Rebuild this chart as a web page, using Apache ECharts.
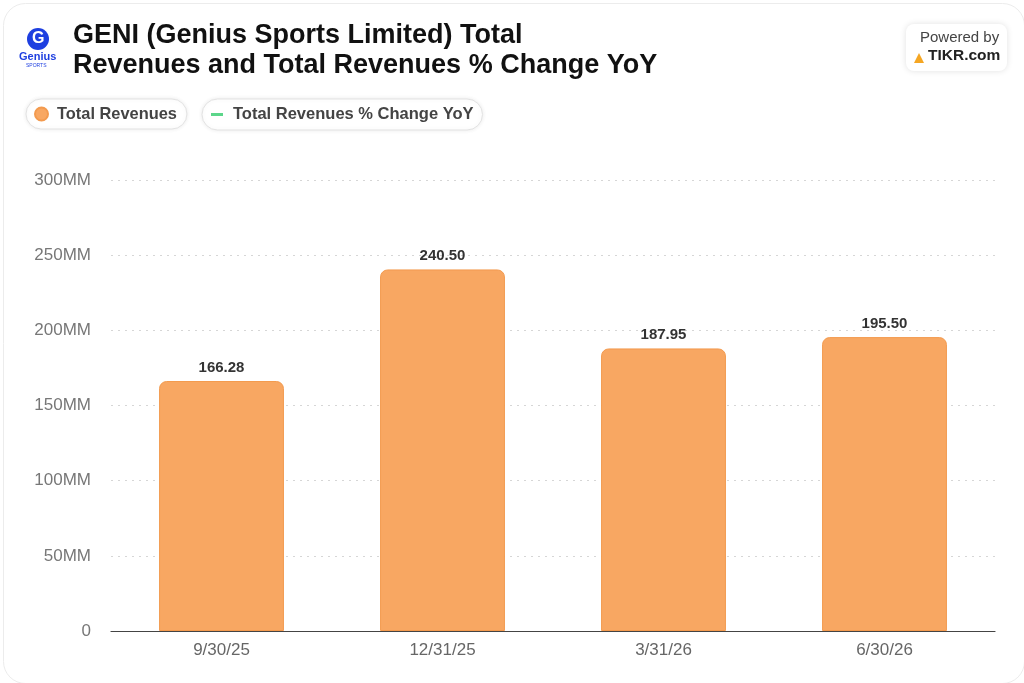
<!DOCTYPE html>
<html>
<head>
<meta charset="utf-8">
<script src="https://cdn.jsdelivr.net/npm/echarts@6/dist/echarts.min.js"></script>
<style>
html,body{margin:0;padding:0;background:#fff;}
#chart{width:1024px;height:683px;}
</style>
</head>
<body>
<div id="chart"></div>
<script>
const categories = ['9/30/25', '12/31/25', '3/31/26', '6/30/26'];
const totalRevenues = [166.28, 240.50, 187.95, 195.50];
const yoyChange = [];
const yTicks = [0, 50, 100, 150, 200, 250, 300];

const chart = echarts.init(document.getElementById('chart'));
const FONT = '"Liberation Sans", Arial, Helvetica, sans-serif';

chart.setOption({
  backgroundColor: '#ffffff',
  animation: false,
  textStyle: { fontFamily: FONT },
  title: {
    text: 'GENI (Genius Sports Limited) Total\nRevenues and Total Revenues % Change YoY',
    left: 68, top: 16,
    textStyle: { fontSize: 27, fontWeight: 'bold', color: '#111', lineHeight: 30, fontFamily: FONT }
  },
  legend: [
    {
      data: [{ name: 'Total Revenues', icon: 'circle' }],
      left: 26, top: 99,
      itemWidth: 13, itemHeight: 13,
      padding: [7, 10, 7, 8],
      borderColor: '#e3e3e3', borderWidth: 1, borderRadius: 16,
      backgroundColor: '#fff',
      shadowColor: 'rgba(0,0,0,0.08)', shadowBlur: 4,
      textStyle: { fontSize: 16.4, color: '#444', fontWeight: 'bold', fontFamily: FONT, padding: [0, 0, 0, 4] }
    },
    {
      data: [{ name: 'Total Revenues % Change YoY', icon: 'rect' }],
      left: 202, top: 99,
      itemWidth: 12, itemHeight: 3,
      padding: [7, 9, 7, 9],
      borderColor: '#e3e3e3', borderWidth: 1, borderRadius: 16,
      backgroundColor: '#fff',
      shadowColor: 'rgba(0,0,0,0.08)', shadowBlur: 4,
      textStyle: { fontSize: 16.5, color: '#444', fontWeight: 'bold', fontFamily: FONT, padding: [0, 0, 0, 5] }
    }
  ],
  grid: { left: 111, right: 29, top: 180, bottom: 52, containLabel: false },
  xAxis: {
    type: 'category',
    data: categories,
    axisLine: { lineStyle: { color: '#444', width: 1.2 } },
    axisTick: { alignWithLabel: true, length: 5, lineStyle: { color: '#444' },
      interval: 0 },
    axisLabel: { fontSize: 17, color: '#666', margin: 11, fontFamily: FONT }
  },
  yAxis: [
    {
      type: 'value',
      min: 0, max: 300, interval: 50,
      axisLine: { show: false },
      axisTick: { show: false },
      axisLabel: {
        fontSize: 17, color: '#777', margin: 20, fontFamily: FONT,
        formatter: function (v) { return yTicks.indexOf(v) >= 0 ? (v === 0 ? '0' : v + 'MM') : ''; }
      },
      splitLine: { lineStyle: { color: '#d6d6d6', type: [2, 5], width: 1 } }
    },
    { type: 'value', show: false }
  ],
  series: [
    {
      name: 'Total Revenues',
      type: 'bar',
      data: totalRevenues,
      barWidth: '56.5%',
      itemStyle: {
        color: '#F8A762',
        borderColor: '#F39A4E',
        borderWidth: 1,
        borderRadius: [7, 7, 0, 0]
      },
      label: {
        show: true, position: 'top', distance: 6,
        fontSize: 15, fontWeight: 'bold', color: '#333', fontFamily: FONT,
        formatter: function (p) { return p.value.toFixed(2); }
      }
    },
    {
      name: 'Total Revenues % Change YoY',
      type: 'line',
      yAxisIndex: 1,
      data: yoyChange,
      itemStyle: { color: '#5CD68A' },
      lineStyle: { color: '#5CD68A', width: 2 }
    }
  ],
  graphic: [
    { type: 'rect', left: 1, top: 1, shape: { width: 1021, height: 680, r: 22 },
      style: { fill: 'none', stroke: '#ececec', lineWidth: 1 }, z: -10 },
    { type: 'circle', shape: { cx: 38, cy: 39, r: 11 }, style: { fill: '#1E3FE0' } },
    { type: 'text', left: 32, top: 31, style: { text: 'G', fill: '#fff', font: 'bold 16px ' + FONT } },
    { type: 'text', left: 19, top: 51, style: { text: 'Genius', fill: '#1E3FE0', font: 'bold 11px ' + FONT } },
    { type: 'text', left: 26, top: 63, style: { text: 'SPORTS', fill: '#1E3FE0', font: '5px ' + FONT } },
    { type: 'rect', left: 906, top: 24, shape: { width: 101, height: 47, r: 8 },
      style: { fill: '#fff', shadowColor: 'rgba(0,0,0,0.12)', shadowBlur: 6 } },
    { type: 'text', left: 920, top: 30, style: { text: 'Powered by', fill: '#444', font: '15px ' + FONT } },
    { type: 'polygon', shape: { points: [[914, 63], [919, 53], [924, 63]] }, style: { fill: '#F5A623' } },
    { type: 'text', left: 928, top: 48, style: { text: 'TIKR.com', fill: '#222', font: 'bold 15.5px ' + FONT } }
  ]
});
</script>
</body>
</html>
